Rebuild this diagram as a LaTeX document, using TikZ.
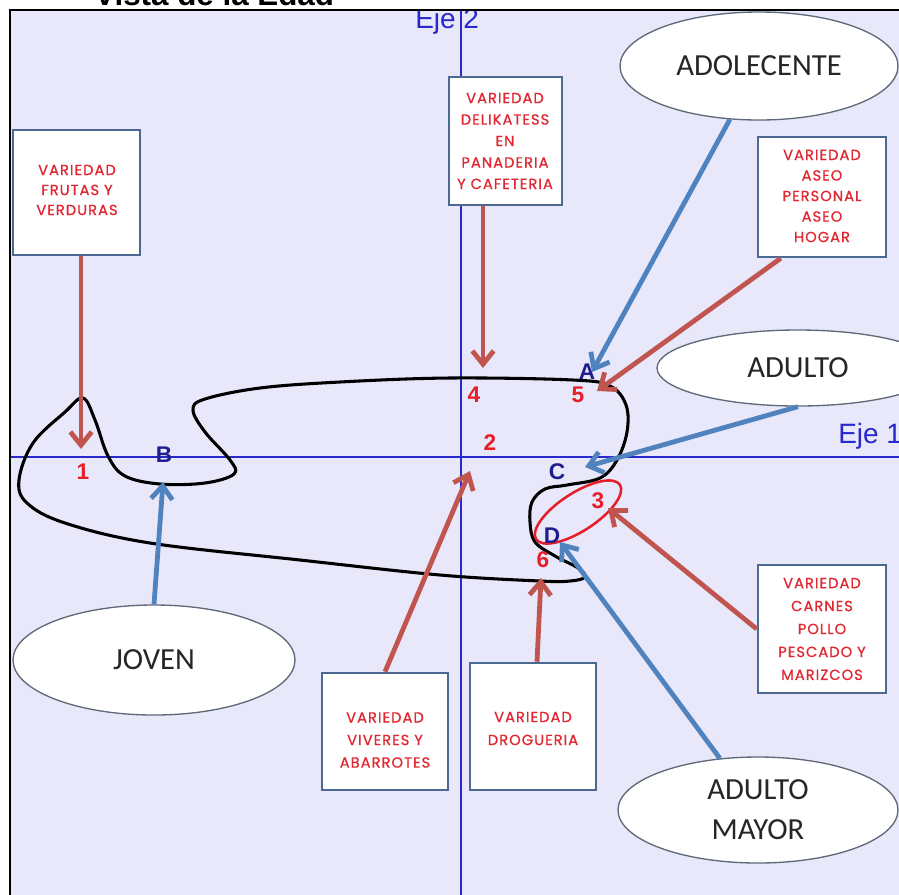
\documentclass[tikz,border=0pt]{standalone}
\usepackage{fontspec}
\setmainfont{Liberation Sans}
\newfontfamily\ovalfont{Carlito}
\newfontfamily\boxfont[LetterSpace=7, FakeBold=0.8]{Poppins}
\usetikzlibrary{arrows.meta,shapes.geometric}

\definecolor{panel}{RGB}{232,232,250}
\definecolor{axisblue}{RGB}{40,40,205}
\definecolor{arrred}{RGB}{192,85,80}
\definecolor{arrblue}{RGB}{80,130,190}
\definecolor{boxedge}{RGB}{75,105,145}
\definecolor{boxred}{RGB}{225,40,50}
\definecolor{ovaledge}{RGB}{95,105,120}
\definecolor{ptred}{RGB}{230,30,40}
\definecolor{ptnavy}{RGB}{30,30,140}

\begin{document}
\begin{tikzpicture}[x=0.75pt,y=-0.75pt,
  vbox/.style={draw=boxedge, line width=1.9pt, fill=white, inner sep=0pt},
  boxtext/.style={text=boxred, align=center, inner sep=0pt},
  oval/.style={ellipse, draw=ovaledge, line width=1pt, fill=white, inner sep=0pt,
    align=center, text=black!85, font=\ovalfont\fontsize{23}{30}\selectfont},
  redarrow/.style={draw=arrred, line width=3.6pt, -{Straight Barb[length=10pt,width=16pt]}},
  bluearrow/.style={draw=arrblue, line width=3.6pt, -{Straight Barb[length=10pt,width=16pt]}},
  ptnum/.style={text=ptred, inner sep=0pt, font=\bfseries\fontsize{17}{17}\selectfont},
  ptlet/.style={text=ptnavy, inner sep=0pt, font=\bfseries\fontsize{17}{17}\selectfont},
  axis/.style={draw=axisblue, line width=1.2pt},
  axislabel/.style={text=axisblue, inner sep=0pt, anchor=base west}]
\useasboundingbox (0,0) rectangle (899,894);

% title, mostly above the page
\node[anchor=base west, inner sep=0pt, font=\bfseries\fontsize{23.5}{23.5}\selectfont] (title) at (94,5) {Vista de la Edad};

% panel
\fill[panel] (10,10) rectangle (905,900);
\begin{scope}
  \clip (10,10) rectangle (905,900);
  \node[axislabel, font=\fontsize{21}{21}\selectfont] (eje2) at (415,28) {Eje 2};
  \node[axislabel, font=\fontsize{21}{21}\selectfont] (eje1) at (838,443) {Eje 1};
  \draw[axis] (461,10) -- (461,900);
  \draw[axis] (10,457) -- (905,457);
\end{scope}
\draw[line width=2.2pt] (10,900) -- (10,10) -- (905,10);

% closed curve
\draw[line width=2.3pt, line join=round] plot[smooth cycle, tension=0.6] coordinates {
  (83,398) (95,420) (108,456) (125,476) (160,484) (205,483) (234,474)
  (230,460) (205,432) (193,410) (205,399) (260,388) (340,382) (450,378)
  (573,380) (610,386) (626,405) (627,432) (617,460) (600,478) (567,485)
  (545,489) (532,502) (530,522) (535,542) (555,556) (578,568) (585,577)
  (570,581) (540,581) (440,575) (300,560) (150,543) (65,523) (27,503)
  (19,480) (33,443) (65,412)};

% loop around point 3
\draw[draw=ptred, line width=1.9pt, rotate around={33:(578,512)}] (578,512) ellipse [x radius=50, y radius=19];

% boxes
\node[vbox, minimum width=95.25pt, minimum height=93.75pt] (fru) at (76.5,192.5) {};
\node[vbox, minimum width=84.75pt, minimum height=96pt] (dlk) at (505.5,141) {};
\node[vbox, minimum width=96pt, minimum height=90pt] (aseo) at (822,197) {};
\node[vbox, minimum width=96pt, minimum height=96pt] (car) at (822,629) {};
\node[vbox, minimum width=94.5pt, minimum height=87.75pt] (viv) at (385,731.5) {};
\node[vbox, minimum width=94.5pt, minimum height=95.25pt] (drg) at (533,726.5) {};

\node[boxtext, font=\boxfont\fontsize{11}{15}\selectfont] (frut) at (77,190) {VARIEDAD\\FRUTAS Y\\VERDURAS};
\node[boxtext, font=\boxfont\fontsize{11}{16.1}\selectfont] (dlkt) at (505,141) {VARIEDAD\\DELIKATESS\\EN\\PANADERIA\\Y CAFETERIA};
\node[boxtext, font=\boxfont\fontsize{11}{15.4}\selectfont] (aseot) at (822,196) {VARIEDAD\\ASEO\\PERSONAL\\ASEO\\HOGAR};
\node[boxtext, font=\boxfont\fontsize{11}{17.2}\selectfont] (cart) at (822,629) {VARIEDAD\\CARNES\\POLLO\\PESCADO Y\\MARIZCOS};
\node[boxtext, font=\boxfont\fontsize{11}{16.9}\selectfont] (vivt) at (385,740) {VARIEDAD\\VIVERES Y\\ABARROTES};
\node[boxtext, font=\boxfont\fontsize{11}{17.2}\selectfont] (drgt) at (533,728.5) {VARIEDAD\\DROGUERIA};

% age groups
\node[oval, minimum width=208.5pt, minimum height=81pt] (ado) at (759,66) {ADOLECENTE};
\node[oval, minimum width=211.5pt, minimum height=57pt] (adu) at (798,368) {ADULTO};
\node[oval, minimum width=211.5pt, minimum height=82.5pt] (jov) at (154,660) {JOVEN};
\node[oval, minimum width=210pt, minimum height=79.5pt] (may) at (758,810) {ADULTO\\MAYOR};

% arrow tips
\coordinate (t1) at (81,449);
\coordinate (t2) at (470,471);
\coordinate (t3) at (608,508);
\coordinate (t4) at (483,368);
\coordinate (t5) at (597,391);
\coordinate (t6) at (541,578);
\coordinate (tA) at (592,372);
\coordinate (tB) at (163,482);
\coordinate (tC) at (585,467);
\coordinate (tD) at (560,542);

% category arrows
\draw[redarrow] (fru.south -| t1) -- (t1);
\draw[redarrow] (dlk.south -| t4) -- (t4);
\draw[redarrow] ([xshift=18pt]aseo.south west) -- (t5);
\draw[redarrow] (car.west) -- (t3);
\draw[redarrow] (viv.north) -- (t2);
\draw[redarrow] ([xshift=3pt]drg.north) -- (t6);

% age arrows
\draw[bluearrow] (ado) -- (tA);
\draw[bluearrow] (adu.south) -- (tC);
\draw[bluearrow] (jov.north) -- (tB);
\draw[bluearrow] (may) -- (tD);

% point labels
\node[ptnum] (p1) at (83,472) {1};
\node[ptnum] (p2) at (490,443) {2};
\node[ptnum] (p3) at (598,501) {3};
\node[ptnum] (p4) at (474,395) {4};
\node[ptnum] (p5) at (578,395) {5};
\node[ptnum] (p6) at (543,560) {6};
\node[ptlet] (pA) at (587,372) {A};
\node[ptlet] (pB) at (164,455) {B};
\node[ptlet] (pC) at (557,472) {C};
\node[ptlet] (pD) at (552,536) {D};
\end{tikzpicture}
\end{document}
